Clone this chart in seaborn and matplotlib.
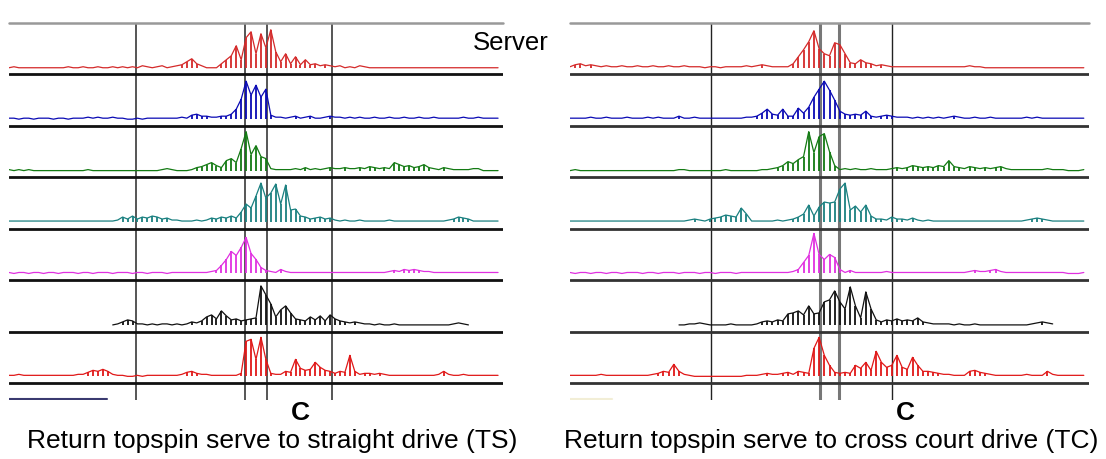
import numpy as np
import pandas as pd
import matplotlib.pyplot as plt
import seaborn as sns

nan = np.nan

# rectified EMG, amplitude above baseline (px of a 51.4 px row), 100 samples per trial
# TS = return topspin serve to straight drive
ts_ch1 = [0,1,0,0,0, 0,0,0,0,0, 0,0,1,0,0, 1,0,0,1,0, 0,1,0,1,0, 1,0,2,1,0, 1,2,0,1,2, 3,6,9,4,2,
          0,0,0,4,8, 12,22,8,30,36, 14,34,20,38,16, 6,14,4,11,3, 8,3,4,2,3, 2,1,2,0,1,
          0,2,1,0,0, 0,0,0,0,0, 0,0,0,0,0, 0,0,0,0,0, 0,0,0,0,0, 0,0,0,0,0]
ts_ch2 = [1,1,0,1,1, 0,1,1,1,0, 1,1,0,1,1, 1,2,1,2,1, 1,2,1,1,0, 0,1,0,1,1, 1,1,1,1,1, 2,1,4,5,3,
          3,2,2,3,3, 5,10,20,38,24, 34,22,30,4,2, 2,1,2,3,1, 2,3,1,1,2, 3,2,2,1,2,
          1,2,1,1,2, 1,1,2,1,1, 2,1,1,2,1, 1,2,1,1,1, 1,1,2,1,1, 2,1,1,1,1]
ts_ch3 = [1,0,1,0,1, 0,0,0,0,0, 0,0,0,0,0, 0,1,0,0,0, 0,0,0,0,0, 0,0,0,0,0, 0,1,2,1,0, 0,0,1,3,4,
          6,8,5,3,10, 12,8,22,39,16, 25,14,12,2,1, 1,1,1,2,1, 3,1,2,1,2, 3,2,2,3,2,
          2,3,2,4,3, 2,3,2,8,6, 4,5,3,4,6, 3,2,1,3,2, 1,1,1,1,2, 2,0,0,0,0]
ts_ch4 = [1,1,1,1,1, 1,1,1,1,1, 1,1,1,1,1, 1,1,1,1,1, 1,1,2,5,3, 6,3,5,4,6, 5,3,4,2,2, 1,1,1,2,1,
          2,4,3,5,4, 6,4,10,18,14, 26,39,24,29,38, 18,37,12,13,6, 5,3,4,5,3, 4,2,1,2,1,
          1,2,1,1,1, 1,1,2,1,1, 1,1,1,1,1, 1,1,1,1,2, 3,5,4,3,1, 1,1,1,1,1]
ts_ch5 = [1,0,1,1,0, 1,1,0,1,1, 0,1,1,1,0, 1,1,0,1,1, 1,0,1,1,1, 0,1,1,0,1, 1,1,0,1,1, 1,1,1,1,1,
          1,2,3,8,14, 22,18,26,36,20, 14,6,3,2,1, 4,2,1,1,1, 1,1,1,1,1, 1,1,1,1,1,
          1,1,1,1,1, 1,1,2,3,2, 4,3,4,3,2, 2,1,1,1,1, 1,1,1,1,1, 1,1,1,1,1]
ts_ch6 = [nan]*21 + [0,1,3,5, 4,1,1,0,1, 0,1,1,0,1, 0,1,3,2,4,
          8,10,6,14,9, 5,6,4,5,6, 7,39,30,21,8, 15,19,12,6,5, 4,8,5,9,4, 10,6,4,3,2,
          3,2,1,1,0, 1,0,0,1,0, 0,0,0,0,0, 0,0,0,0,0, 1,2,1,0] + [nan]*6
ts_ch7 = [1,1,2,1,1, 1,1,1,1,1, 1,1,1,1,2, 2,4,6,5,7, 5,2,1,1,0, 0,1,0,1,1, 1,1,1,1,1, 2,4,5,3,2,
          2,1,1,1,1, 1,1,3,35,37, 17,39,17,3,2, 2,5,4,17,8, 6,7,14,9,6, 5,3,5,4,21,
          5,2,3,3,2, 3,2,1,1,1, 1,1,1,1,1, 1,1,2,5,2, 1,1,2,1,1, 1,1,1,1,1]

# TC = return topspin serve to cross court drive
tc_ch1 = [1,3,4,2,3, 2,1,2,1,1, 2,1,1,2,1, 1,2,1,1,2, 1,1,2,1,1, 1,0,1,1,0, 1,1,1,1,2, 1,2,3,2,1,
          1,1,1,4,11, 18,26,37,19,14, 12,25,23,14,5, 4,8,5,4,2, 3,2,1,1,1, 1,1,1,1,1,
          1,1,1,1,1, 1,1,2,1,1, 0,0,0,0,0, 0,0,0,0,0, 0,0,0,0,0, 0,0,0,0,0]
tc_ch2 = [1,1,1,1,2, 1,1,2,1,1, 1,2,1,1,1, 2,1,2,1,1, 1,3,1,1,2, 1,1,1,1,1, 1,1,1,1,2, 2,3,6,10,5,
          4,10,3,3,11, 6,12,22,30,38, 29,19,8,5,4, 5,4,8,3,2, 3,4,3,2,2, 2,1,2,1,2,
          1,2,1,2,3, 2,1,1,2,1, 1,2,1,1,1, 1,1,1,2,1, 2,1,1,1,1, 1,1,1,1,1]
tc_ch3 = [0,1,0,0,0, 0,0,0,0,0, 0,0,0,0,0, 0,0,0,0,0, 0,1,1,0,0, 0,0,0,0,0, 1,0,0,0,0, 0,0,1,1,2,
          3,5,9,7,11, 14,39,18,34,37, 19,5,1,2,1, 2,1,1,2,1, 1,1,2,3,2, 3,5,4,3,4,
          3,5,4,10,4, 3,2,4,3,2, 3,2,3,4,2, 1,1,1,1,1, 1,1,2,1,1, 1,0,0,0,1]
tc_ch4 = [1,1,1,1,1, 1,1,1,1,1, 1,1,1,1,1, 1,1,1,1,1, 1,1,1,2,3, 2,1,3,4,5, 7,6,5,14,8, 1,1,1,1,1,
          2,1,2,3,5, 8,17,6,15,20, 19,20,33,39,12, 16,10,17,6,3, 3,2,5,3,3, 2,4,2,1,2,
          1,1,1,1,1, 1,1,1,1,1, 1,1,1,1,1, 1,1,1,2,3, 4,3,2,1,1, 1,1,1,1,1]
tc_ch5 = [1,0,1,1,0, 1,1,0,1,1, 0,1,1,1,0, 1,1,0,1,1, 1,0,1,1,1, 0,1,1,0,1, 1,1,0,1,1, 1,1,1,1,1,
          1,1,1,2,4, 11,18,40,19,14, 19,16,4,1,3, 1,1,1,1,1, 1,2,1,1,1, 1,1,1,1,1,
          1,1,1,1,1, 1,1,2,3,2, 2,3,4,2,1, 1,1,1,1,1, 1,1,1,1,1, 1,0,0,0,1]
tc_ch6 = [nan]*21 + [0,0,1,1, 2,1,0,0,0, 0,1,0,0,0, 0,1,3,4,3,
          5,4,11,12,14, 10,19,11,12,23, 25,34,23,16,38, 19,7,33,16,5, 3,5,4,6,4, 5,4,7,3,2,
          1,1,1,1,0, 1,0,0,1,0, 0,0,0,0,0, 0,0,0,0,1, 2,3,2,1] + [nan]*6
tc_ch7 = [1,1,1,1,1, 1,2,1,1,1, 1,1,1,1,1, 1,2,3,5,4, 12,5,2,1,0, 0,0,0,0,0, 0,0,0,0,1, 1,1,2,3,2,
          2,3,4,2,5, 4,3,28,39,21, 11,4,3,4,3, 11,8,14,6,25, 14,9,11,21,9, 7,19,11,5,5,
          4,3,2,2,1, 1,1,5,6,4, 3,2,1,1,1, 1,1,1,2,1, 1,1,5,2,1, 1,1,1,1,1]

ts_traces = [ts_ch1, ts_ch2, ts_ch3, ts_ch4, ts_ch5, ts_ch6, ts_ch7]
tc_traces = [tc_ch1, tc_ch2, tc_ch3, tc_ch4, tc_ch5, tc_ch6, tc_ch7]

# event markers (sample index)
ts_events = [25.7, 47.8, 52.2, 65.4]
tc_events = [27.2, 48.2, 51.8, 62.0]

channel_colors = ["#d42a2a", "#0a0ab4", "#137a13", "#1a8080", "#e030e0", "#111111", "#e01818"]
ROW_PX = 51.4

sns.set_style("white")
plt.rcParams["font.family"] = ["Liberation Sans", "DejaVu Sans"]

fig = plt.figure(figsize=(11.06, 4.59), dpi=100)
ax_ts = fig.add_axes([9 / 1106, 59 / 459, 494 / 1106, 377 / 459])
ax_tc = fig.add_axes([570 / 1106, 59 / 459, 519 / 1106, 377 / 459])


def draw_panel(ax, traces, events, event_styles, sep_color, bar_color, bar_len):
    n_ch = len(traces)
    for k, (vals, col) in enumerate(zip(traces, channel_colors)):
        base = n_ch - 1 - k + 0.13
        raw = np.array(vals, dtype=float)
        df = pd.DataFrame({"t": np.arange(len(vals)), "amp": raw / ROW_PX + base, "raw": raw})
        sns.lineplot(data=df, x="t", y="amp", ax=ax, color=col, linewidth=0.9,
                     estimator=None, sort=False)
        # fill bursts with spikes, skip the baseline noise
        burst = df[df["raw"] >= 3]
        ax.vlines(burst["t"], base, burst["amp"], color=col, linewidth=1.3)
        ax.axhline(n_ch - 1 - k, color=sep_color, linewidth=2.0)
    ax.axhline(n_ch, color="#999999", linewidth=1.8, clip_on=False)
    for e, (c, w) in zip(events, event_styles):
        ax.axvline(e, color=c, linewidth=w, zorder=0)
    # scale bar
    ax.plot([0, bar_len], [-0.32, -0.32], color=bar_color, linewidth=1.5)
    ax.set_xlim(0, 100)
    ax.set_ylim(-0.33, n_ch)
    ax.set_xlabel("")
    ax.set_ylabel("")
    ax.axis("off")


draw_panel(ax_ts, ts_traces, ts_events, [("#555555", 1.4)] * 4, "#111111", "#3a3a70", 19.8)
draw_panel(ax_tc, tc_traces, tc_events,
           [("#222222", 1.0), ("#777777", 2.2), ("#777777", 2.2), ("#222222", 1.0)],
           "#333333", "#f2eed6", 8)

fig.text(473 / 1106, 1 - 43 / 459, "Server", fontsize=18.5, color="black", ha="left", va="center")
fig.text(300 / 1106, 1 - 413 / 459, "C", fontsize=19, fontweight="bold", color="black",
         ha="center", va="center")
fig.text(905 / 1106, 1 - 413 / 459, "C", fontsize=19, fontweight="bold", color="black",
         ha="center", va="center")
fig.text(272 / 1106, 1 - 441 / 459, "Return topspin serve to straight drive (TS)",
         fontsize=19, color="black", ha="center", va="center")
fig.text(831 / 1106, 1 - 441 / 459, "Return topspin serve to cross court drive (TC)",
         fontsize=19, color="black", ha="center", va="center")

fig.savefig("out.png", dpi=100)
